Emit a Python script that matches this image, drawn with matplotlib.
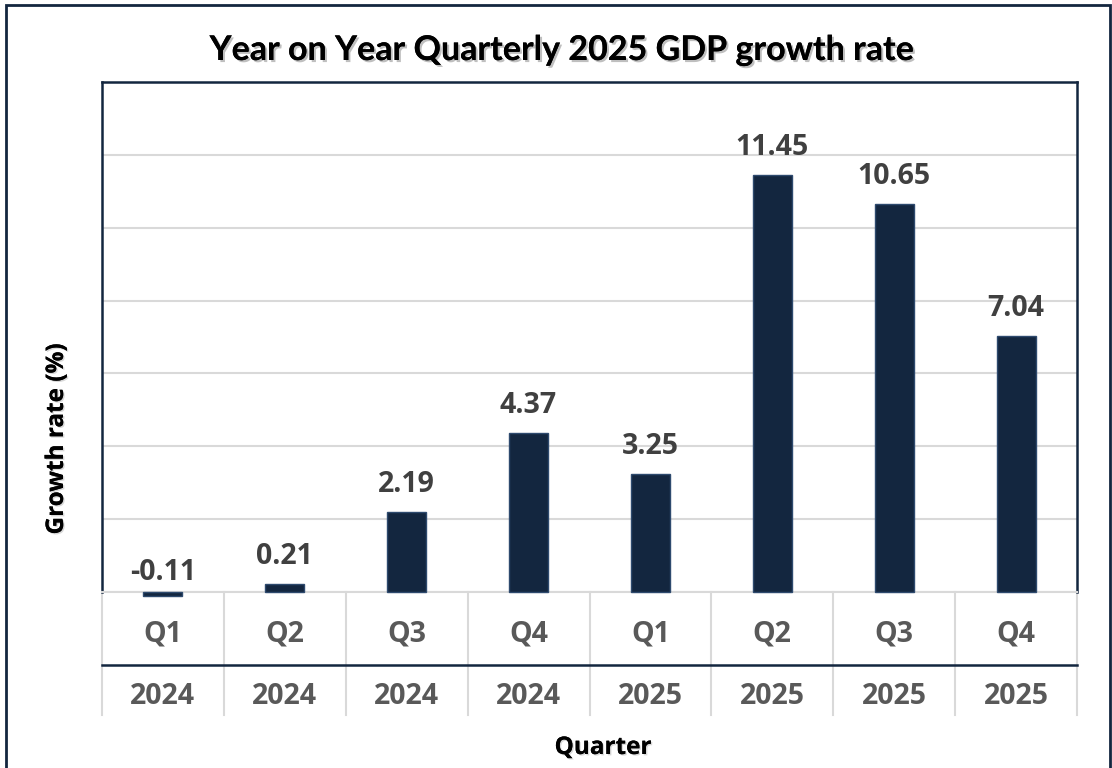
import matplotlib.pyplot as plt
import matplotlib.patheffects as pe
from matplotlib.patches import Rectangle

quarters = ["Q1", "Q2", "Q3", "Q4", "Q1", "Q2", "Q3", "Q4"]
years = ["2024", "2024", "2024", "2024", "2025", "2025", "2025", "2025"]
growth = [-0.11, 0.21, 2.19, 4.37, 3.25, 11.45, 10.65, 7.04]

navy = "#13263F"
grey_txt = "#595959"
grid_c = "#D9D9D9"

plt.rcParams['font.family'] = ['Open Sans', 'DejaVu Sans']

fig = plt.figure(figsize=(11.12, 7.68), dpi=100)
ax = fig.add_axes([102/1112, 1-592/768, (1077-102)/1112, (592-82)/768])

x = list(range(len(growth)))
ax.bar(x, growth, width=0.32, color=navy, edgecolor="#2E4A6E", linewidth=1, zorder=3, clip_on=False)

for xi, v in zip(x, growth):
    yy = v + 0.55 if v >= 0 else 0.33
    ax.text(xi, yy, f"{v:.2f}", ha="center", va="baseline", fontsize=20.5, fontweight="bold", color="#404040")

ax.set_xlim(-0.5, len(growth) - 0.5)
ax.set_ylim(0, 14)
ax.set_yticks(range(0, 15, 2))
ax.yaxis.grid(True, color=grid_c, linewidth=1.5, zorder=0)
ax.set_axisbelow(True)
ax.tick_params(left=False, bottom=False, labelleft=False, labelbottom=False)
for s in ["left", "top", "right"]:
    ax.spines[s].set_color(navy)
    ax.spines[s].set_linewidth(1.8)
ax.spines["bottom"].set_color(grid_c)
ax.spines["bottom"].set_linewidth(1.5)

# multi-level category table under the axis
tr = ax.get_xaxis_transform()
y_q = (592 - 634) / 510
y_mid = (592 - 665) / 510
y_yr = (592 - 697) / 510
y_end = (592 - 715) / 510
for i in range(len(growth) + 1):
    ax.plot([i - 0.5, i - 0.5], [0, y_end], transform=tr, color=grid_c, lw=1.5, clip_on=False)
ax.plot([-0.5, len(growth) - 0.5], [y_mid, y_mid], transform=tr, color=navy, lw=1.8, clip_on=False)
for xi, q, yr in zip(x, quarters, years):
    ax.text(xi, y_q, q, transform=tr, ha="center", va="center", fontsize=20.5, fontweight="bold", color=grey_txt)
    ax.text(xi, y_yr, yr, transform=tr, ha="center", va="center", fontsize=20.5, fontweight="bold", color=grey_txt)

shadow = [pe.withSimplePatchShadow(offset=(1.5, -1.5), shadow_rgbFace="grey", alpha=0.5), pe.Normal()]
soft = [pe.withSimplePatchShadow(offset=(1, -1), shadow_rgbFace="grey", alpha=0.3), pe.Normal()]

fig.text(562/1112, 1-50/768, "Year on Year Quarterly 2025 GDP growth rate", ha="center", va="center",
         fontsize=24.5, fontweight="bold", color="black", family=['Lato', 'DejaVu Sans'], path_effects=shadow)
fig.text(57/1112, 1-439/768, "Growth rate (%)", rotation=90, ha="center", va="center",
         fontsize=17.5, fontweight="bold", color="black", path_effects=soft)
fig.text(603/1112, 1-748/768, "Quarter", ha="center", va="center",
         fontsize=17.5, fontweight="bold", color="black", path_effects=soft)

fig.patches.append(Rectangle((6/1112, -0.05), (1110-6)/1112, 1.05 - 5/768, transform=fig.transFigure,
                             fill=False, edgecolor=navy, linewidth=2))

fig.savefig("out.png", dpi=100)
